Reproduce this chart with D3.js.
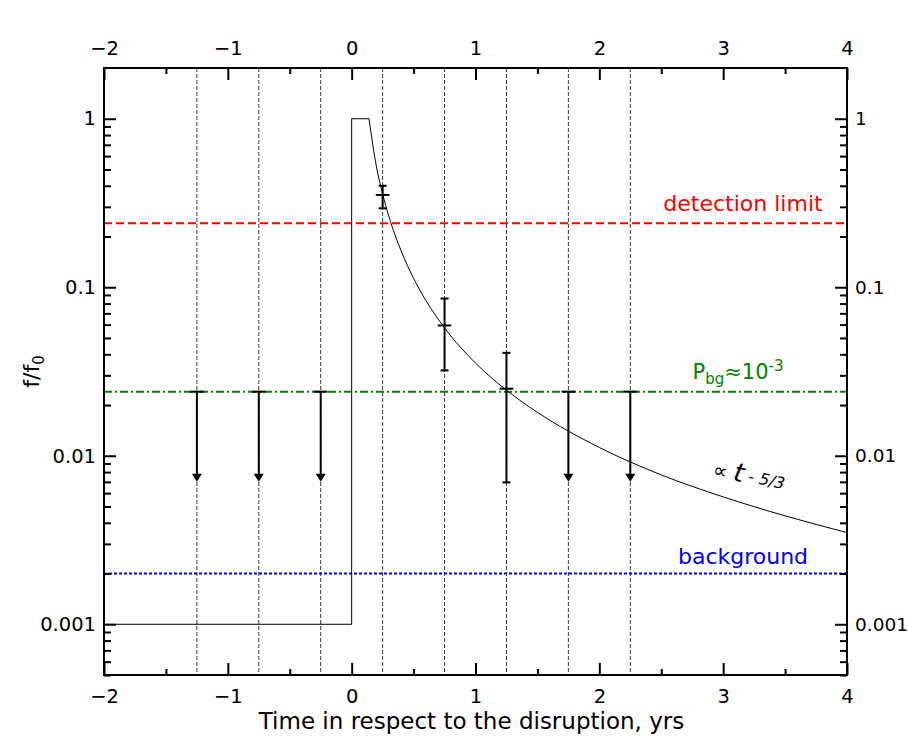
<!DOCTYPE html>
<html><head><meta charset="utf-8">
<script src="https://cdn.jsdelivr.net/npm/d3@7"></script>
<style>body{margin:0;background:#fff;} text{font-family:"DejaVu Sans",sans-serif;}</style>
</head><body>
<svg id="c" width="908" height="738"></svg>
<script>
// ---- data ----
const stepT = [-2, 0, 0, 0.14];
const stepF = [0.001, 0.001, 1, 1];
const decayT = [0.14, 0.2, 0.25, 0.3, 0.4, 0.5, 0.6, 0.75, 1.0, 1.25, 1.5, 2.0, 2.5, 3.0, 3.5, 4.0];
const decayF = [1, 0.519, 0.358, 0.264, 0.164, 0.113, 0.0833, 0.0574, 0.0355, 0.0245, 0.0181, 0.0112, 0.0077, 0.0057, 0.0044, 0.0035];
const binT = [-1.25, -0.75, -0.25, 0.25, 0.75, 1.25, 1.75, 2.25];
const detT = [0.25, 0.75, 1.25];
const detF = [0.353, 0.0593, 0.025];
const detLo = [0.294, 0.0321, 0.00695];
const detHi = [0.40, 0.0857, 0.0408];
const xErr = 0.055;
const ulT = [-1.25, -0.75, -0.25, 1.75, 2.25];
const ulF = 0.024;
const ulTo = 0.0070;
const detectionLimit = 0.24;
const pbgLevel = 0.024;
const backgroundLevel = 0.002;
const xTicks = [-2, -1, 0, 1, 2, 3, 4];
const yTicks = [1, 0.1, 0.01, 0.001];
const yTickLabels = ["1", "0.1", "0.01", "0.001"];

// ---- layout ----
const L = 104, R = 847, T = 68, B = 675;
const svg = d3.select("#c");
const x = d3.scaleLinear().domain([-2, 4]).range([L, R]);
const y = d3.scaleLog().domain([0.0005, 2]).range([B, T]);

const g = svg.append("g");
// vertical bin lines
g.selectAll(".bin").data(binT).enter().append("line")
  .attr("x1", d => x(d)).attr("x2", d => x(d)).attr("y1", T).attr("y2", B)
  .attr("stroke", "#000").attr("stroke-width", 0.8).attr("stroke-dasharray", "4,2");

// horizontal levels
function hline(v, color, dash, w) {
  g.append("line").attr("x1", L).attr("x2", R).attr("y1", y(v)).attr("y2", y(v))
    .attr("stroke", color).attr("stroke-width", w).attr("stroke-dasharray", dash);
}
hline(detectionLimit, "#ff0000", "8,4", 2);
hline(pbgLevel, "#008000", "8,3,2,3", 2);
hline(backgroundLevel, "#0000ff", "3,2", 2);

// model curve
const line = d3.line().x(d => x(d[0])).y(d => y(d[1]));
g.append("path").datum(stepT.map((t, i) => [t, stepF[i]]))
  .attr("d", line).attr("fill", "none").attr("stroke", "#000").attr("stroke-width", 1);
g.append("path").datum(decayT.map((t, i) => [t, decayF[i]]))
  .attr("d", line.curve(d3.curveMonotoneX)).attr("fill", "none").attr("stroke", "#000").attr("stroke-width", 1);

// detections with error bars
detT.forEach((t, i) => {
  const cx = x(t);
  g.append("line").attr("x1", cx).attr("x2", cx).attr("y1", y(detHi[i])).attr("y2", y(detLo[i]))
    .attr("stroke", "#000").attr("stroke-width", 2);
  [detHi[i], detLo[i]].forEach(v => g.append("line").attr("x1", cx - 4).attr("x2", cx + 4)
    .attr("y1", y(v)).attr("y2", y(v)).attr("stroke", "#000").attr("stroke-width", 2));
  g.append("line").attr("x1", x(t - xErr)).attr("x2", x(t + xErr)).attr("y1", y(detF[i])).attr("y2", y(detF[i]))
    .attr("stroke", "#000").attr("stroke-width", 2);
});

// upper limits
ulT.forEach(t => {
  const cx = x(t), y0 = y(ulF), y1 = y(ulTo);
  g.append("line").attr("x1", x(t - xErr)).attr("x2", x(t + xErr)).attr("y1", y0).attr("y2", y0)
    .attr("stroke", "#000").attr("stroke-width", 2);
  g.append("line").attr("x1", cx).attr("x2", cx).attr("y1", y0).attr("y2", y1 - 6)
    .attr("stroke", "#000").attr("stroke-width", 2);
  g.append("path").attr("d", `M${cx - 5},${y1 - 8} L${cx + 5},${y1 - 8} L${cx},${y1} Z`).attr("fill", "#000");
});

// labels in plot
svg.append("text").attr("x", 743).attr("y", 211).attr("text-anchor", "middle")
  .attr("fill", "#ff0000").attr("font-size", 22).text("detection limit");
const pt = svg.append("text").attr("x", 738).attr("y", 379).attr("text-anchor", "middle")
  .attr("fill", "#008000").attr("font-size", 21);
pt.append("tspan").text("P");
pt.append("tspan").attr("font-size", 15).attr("dy", 5).text("bg");
pt.append("tspan").attr("dy", -5).text("≈10");
pt.append("tspan").attr("font-size", 15).attr("dy", -8).text("-3");
svg.append("text").attr("x", 743).attr("y", 564).attr("text-anchor", "middle")
  .attr("fill", "#0000ff").attr("font-size", 22).text("background");
const pw = svg.append("text").attr("transform", "translate(712,476) rotate(12)").attr("font-size", 20).attr("fill", "#000");
pw.append("tspan").text("∝ ");
pw.append("tspan").attr("font-style", "italic").attr("font-size", 26).text("t");
pw.append("tspan").attr("font-style", "italic").attr("font-size", 16).attr("dy", -2).text(" - 5/3");

// frame
svg.append("rect").attr("x", L).attr("y", T).attr("width", R - L).attr("height", B - T)
  .attr("fill", "none").attr("stroke", "#000").attr("stroke-width", 2);

// axes
const xMinor = d3.range(-2, 4.01, 0.5).filter(v => !xTicks.includes(v));
const yMinor = [];
[-4, -3, -2, -1, 0].forEach(e => { for (let m = 2; m <= 9; m++) { const v = m * Math.pow(10, e); if (v >= 0.0005 && v < 2) yMinor.push(v); } });

function styleAxis(sel, fs) {
  sel.select(".domain").remove();
  sel.selectAll(".tick line").attr("stroke", "#000").attr("stroke-width", 2);
  sel.selectAll(".tick text").attr("font-size", fs || 19.5).attr("font-family", "DejaVu Sans").attr("fill", "#000");
}
const fmtX = d => d < 0 ? "\u2212" + Math.abs(d) : String(d);
svg.append("g").attr("transform", `translate(0,${B})`)
  .call(d3.axisBottom(x).tickValues(xTicks).tickFormat(fmtX).tickSizeInner(-12).tickPadding(14)).call(styleAxis);
svg.append("g").attr("transform", `translate(0,${B})`)
  .call(d3.axisBottom(x).tickValues(xMinor).tickFormat("").tickSizeInner(-6)).call(styleAxis);
svg.append("g").attr("transform", `translate(0,${T})`)
  .call(d3.axisTop(x).tickValues(xTicks).tickFormat(fmtX).tickSizeInner(-12).tickPadding(13)).call(styleAxis);
svg.append("g").attr("transform", `translate(0,${T})`)
  .call(d3.axisTop(x).tickValues(xMinor).tickFormat("").tickSizeInner(-6)).call(styleAxis);

svg.append("g").attr("transform", `translate(${L},0)`)
  .call(d3.axisLeft(y).tickValues(yTicks).tickFormat((d, i) => yTickLabels[i]).tickSizeInner(-12).tickPadding(8)).call(styleAxis);
svg.append("g").attr("transform", `translate(${L},0)`)
  .call(d3.axisLeft(y).tickValues(yMinor).tickFormat("").tickSizeInner(-7)).call(styleAxis);
svg.append("g").attr("transform", `translate(${R},0)`)
  .call(d3.axisRight(y).tickValues(yTicks).tickFormat((d, i) => yTickLabels[i]).tickSizeInner(-12).tickPadding(8))
  .call(s => styleAxis(s, 18.5));
svg.append("g").attr("transform", `translate(${R},0)`)
  .call(d3.axisRight(y).tickValues(yMinor).tickFormat("").tickSizeInner(-7)).call(styleAxis);

// axis titles
svg.append("text").attr("x", (L + R) / 2 - 4).attr("y", 729).attr("text-anchor", "middle")
  .attr("font-size", 23).text("Time in respect to the disruption, yrs");
const yl = svg.append("text").attr("transform", `translate(39,${(T + B) / 2}) rotate(-90)`)
  .attr("text-anchor", "middle").attr("font-size", 22);
yl.append("tspan").text("f/f");
yl.append("tspan").attr("font-size", 15).attr("dy", 5).text("0");
</script>
</body></html>
